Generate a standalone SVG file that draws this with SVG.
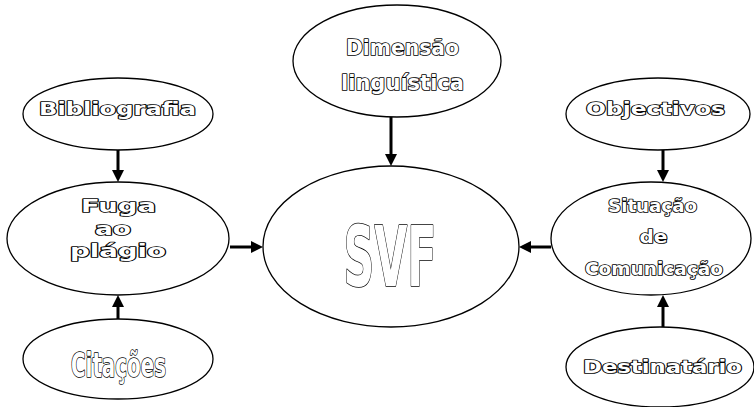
<svg xmlns="http://www.w3.org/2000/svg" width="754" height="407" viewBox="0 0 754 407">
<style>
  .node ellipse { fill: #ffffff; stroke: #000000; stroke-width: 1.3; }
  .lbl { font-family: "DejaVu Sans", "Liberation Sans", sans-serif; font-weight: bold; font-size: 17px; fill: #ffffff; stroke: #000000; stroke-width: 1.7; stroke-linejoin: round; paint-order: stroke; text-anchor: middle; }
  .big { font-family: "DejaVu Sans Condensed", "Liberation Sans", sans-serif; font-stretch: condensed; font-weight: bold; fill: #ffffff; stroke: #000000; stroke-width: 1.6; stroke-linejoin: round; paint-order: stroke; text-anchor: middle; }
  .conn line { stroke: #000000; stroke-width: 3; marker-end: url(#ah); }
</style>
<defs>
  <marker id="ah" markerUnits="userSpaceOnUse" markerWidth="12" markerHeight="12" refX="4" refY="6" orient="auto" viewBox="0 0 12 12">
    <path d="M0,0 L12,6 L0,12 z" fill="#000000"/>
  </marker>
</defs>
<rect width="754" height="407" fill="#ffffff"/>
<g id="connectors" class="conn">
  <line x1="118" y1="150" x2="118" y2="174"/>
  <line x1="118" y1="319" x2="118" y2="303"/>
  <line x1="230" y1="247" x2="255" y2="247"/>
  <line x1="391" y1="117" x2="391" y2="158"/>
  <line x1="551" y1="247" x2="527" y2="247"/>
  <line x1="663" y1="150" x2="663" y2="174"/>
  <line x1="663" y1="327" x2="663" y2="303"/>
</g>
<g id="bibliografia" class="node">
  <ellipse cx="118" cy="114" rx="95" ry="36"/>
  <text class="lbl" x="117.5" y="115" textLength="157" lengthAdjust="spacingAndGlyphs">Bibliografia</text>
</g>
<g id="fuga" class="node">
  <ellipse cx="118" cy="238.5" rx="111" ry="56.5"/>
  <text class="lbl" x="118.5" y="212" textLength="75" lengthAdjust="spacingAndGlyphs">Fuga</text>
  <text class="lbl" x="113" y="235" textLength="36" lengthAdjust="spacingAndGlyphs">ao</text>
  <text class="lbl" x="118" y="257" textLength="96" lengthAdjust="spacingAndGlyphs">plágio</text>
</g>
<g id="citacoes" class="node">
  <ellipse cx="118" cy="359" rx="95" ry="40"/>
  <text class="big" x="118.5" y="377" style="font-size:33px" textLength="95" lengthAdjust="spacingAndGlyphs">Citações</text>
</g>
<g id="dimensao" class="node">
  <ellipse cx="397" cy="61" rx="104" ry="56"/>
  <text class="lbl" x="402.5" y="55" style="font-size:21px" textLength="113" lengthAdjust="spacingAndGlyphs">Dimensão</text>
  <text class="lbl" x="402.5" y="90" style="font-size:21px" textLength="123" lengthAdjust="spacingAndGlyphs">linguística</text>
</g>
<g id="svf" class="node">
  <ellipse cx="391" cy="246.5" rx="128" ry="80.5"/>
  <text class="big" x="390" y="286" style="font-size:84px" textLength="93" lengthAdjust="spacingAndGlyphs">SVF</text>
</g>
<g id="objectivos" class="node">
  <ellipse cx="658" cy="114" rx="92" ry="36"/>
  <text class="lbl" x="655.5" y="115" textLength="139" lengthAdjust="spacingAndGlyphs">Objectivos</text>
</g>
<g id="situacao" class="node">
  <ellipse cx="651" cy="238.5" rx="100" ry="56.5"/>
  <text class="lbl" x="652.5" y="212" textLength="89" lengthAdjust="spacingAndGlyphs">Situação</text>
  <text class="lbl" x="653.5" y="243" textLength="28" lengthAdjust="spacingAndGlyphs">de</text>
  <text class="lbl" x="654" y="275" textLength="138" lengthAdjust="spacingAndGlyphs">Comunicação</text>
</g>
<g id="destinatario" class="node">
  <ellipse cx="660" cy="367" rx="94" ry="40"/>
  <text class="lbl" x="662.5" y="373" textLength="159" lengthAdjust="spacingAndGlyphs">Destinatário</text>
</g>
</svg>
